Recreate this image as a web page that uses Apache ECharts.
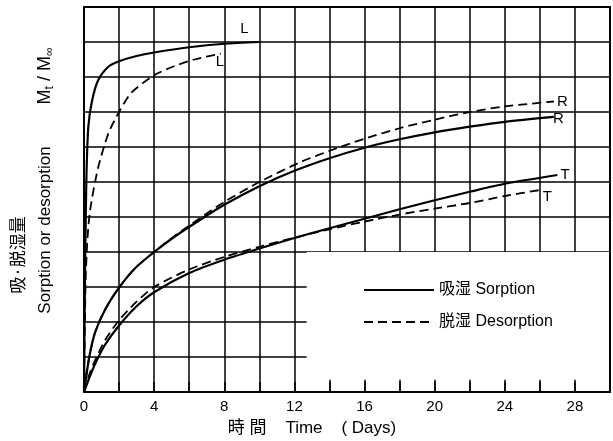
<!DOCTYPE html>
<html>
<head>
<meta charset="utf-8">
<script src="https://cdn.jsdelivr.net/npm/echarts@6/dist/echarts.min.js"></script>
<style>
  html, body { margin: 0; padding: 0; background: #fff; }
  #chart { width: 613px; height: 441px; }
</style>
</head>
<body>
<div id="chart"></div>
<script>
  // time in days, value = Mt/M∞
  const solidL = [[0, 0], [0.05, 0.3], [0.1, 0.5], [0.15, 0.64], [0.25, 0.76], [0.45, 0.83], [0.8, 0.89], [1.4, 0.93], [2, 0.945], [3, 0.96], [4, 0.97], [6, 0.985], [8, 0.995], [10, 1.0]];
  const dashL = [[0, 0], [0.05, 0.2], [0.1, 0.33], [0.2, 0.44], [0.35, 0.52], [0.8, 0.64], [1.4, 0.74], [2, 0.8], [2.7, 0.855], [4, 0.905], [5.2, 0.932], [6.3, 0.95], [7.8, 0.967]];
  const solidR = [[0, 0], [0.3, 0.1], [0.63, 0.17], [1.2, 0.235], [2, 0.298], [2.9, 0.353], [4, 0.4], [5.2, 0.445], [6.5, 0.488], [8, 0.535], [10, 0.588], [12, 0.632], [14, 0.668], [16, 0.698], [18, 0.722], [20, 0.742], [22, 0.758], [24, 0.772], [26.8, 0.786]];
  const dashR = [[0, 0], [0.3, 0.1], [0.63, 0.17], [1.2, 0.235], [2, 0.298], [2.9, 0.353], [4, 0.4], [5.2, 0.447], [6.5, 0.493], [8, 0.543], [10, 0.6], [12.4, 0.658], [14.6, 0.7], [16.2, 0.727], [18.1, 0.755], [20, 0.778], [22, 0.8], [24, 0.816], [26.8, 0.83]];
  const solidT = [[0, 0], [0.3, 0.04], [0.63, 0.08], [1.2, 0.135], [2, 0.19], [3, 0.245], [4, 0.285], [6, 0.34], [8, 0.378], [10, 0.41], [12, 0.44], [14, 0.468], [16, 0.495], [18, 0.522], [20, 0.548], [22, 0.572], [24, 0.595], [27, 0.62]];
  const dashT = [[0, 0], [0.3, 0.05], [0.63, 0.09], [1.2, 0.148], [2, 0.205], [3, 0.258], [4, 0.3], [6, 0.35], [8, 0.386], [10, 0.415], [12, 0.441], [14, 0.465], [16, 0.487], [18, 0.507], [20, 0.524], [22, 0.54], [24, 0.56], [26, 0.577]];
  const xTicks = [0, 4, 8, 12, 16, 20, 24, 28];
  const legendBox = [[12.7, 0.035], [30, 0.4]];

  const SORP = '吸湿 Sorption';
  const DESORP = '脱湿 Desorption';
  const FONT = 'Liberation Sans, DejaVu Sans, Noto Sans CJK JP';

  function curve(name, data, dashed, letter, offset) {
    return {
      name: name,
      type: 'line',
      data: data,
      smooth: 0.25,
      showSymbol: false,
      symbol: 'none',
      z: 4,
      lineStyle: {
        color: '#000',
        width: dashed ? 1.8 : 2.2,
        type: dashed ? [9, 5] : 'solid'
      },
      endLabel: {
        show: true,
        formatter: letter,
        color: '#000',
        fontSize: 15,
        fontFamily: FONT,
        distance: 3,
        offset: offset
      }
    };
  }

  const myChart = echarts.init(document.getElementById('chart'));
  const option = {
    animation: false,
    grid: { left: 84, right: 2, top: 7, bottom: 49 },
    xAxis: [
      {
        type: 'value', min: 0, max: 30, interval: 2,
        axisLine: { show: true, lineStyle: { color: '#000', width: 2 } },
        axisTick: { show: true, inside: true, length: 10, lineStyle: { color: '#000', width: 1.5 } },
        splitLine: { show: true, lineStyle: { color: '#000', width: 1.5 } },
        axisLabel: {
          color: '#000', fontSize: 15, fontFamily: FONT, margin: 7,
          formatter: v => xTicks.indexOf(v) >= 0 ? String(v) : ''
        }
      },
      {
        type: 'value', position: 'top', min: 0, max: 30, z: 10,
        axisLine: { show: true, onZero: false, lineStyle: { color: '#000', width: 2 } },
        axisTick: { show: false }, axisLabel: { show: false }, splitLine: { show: false }
      }
    ],
    yAxis: [
      {
        type: 'value', min: 0, max: 1.1, interval: 0.1,
        axisLine: { show: true, lineStyle: { color: '#000', width: 2 } },
        axisTick: { show: false }, axisLabel: { show: false },
        splitLine: { show: true, lineStyle: { color: '#000', width: 1.5 } }
      },
      {
        type: 'value', position: 'right', min: 0, max: 1.1, z: 10,
        axisLine: { show: true, onZero: false, lineStyle: { color: '#000', width: 2 } },
        axisTick: { show: false }, axisLabel: { show: false }, splitLine: { show: false }
      }
    ],
    legend: {
      left: 358, top: 277, orient: 'vertical',
      itemWidth: 70, itemHeight: 10, itemGap: 16,
      data: [SORP, DESORP],
      itemStyle: { opacity: 0 },
      textStyle: { color: '#000', fontSize: 16, fontFamily: FONT }
    },
    series: [
      {
        name: 'box', type: 'line', data: [], z: 3,
        markArea: {
          silent: true,
          itemStyle: { color: '#fff', opacity: 1 },
          data: [[{ xAxis: legendBox[0][0], yAxis: legendBox[0][1] }, { xAxis: legendBox[1][0], yAxis: legendBox[1][1] }]]
        }
      },
      curve(SORP, solidL, false, 'L', [-22, -13]),
      curve(DESORP, dashL, true, 'L', [-8, 8]),
      curve(SORP, solidR, false, 'R', [-4, 2]),
      curve(DESORP, dashR, true, 'R', [0, 0]),
      curve(SORP, solidT, false, 'T', [0, 0]),
      curve(DESORP, dashT, true, 'T', [0, 7])
    ],
    graphic: [
      {
        type: 'text', x: 18, y: 255, rotation: Math.PI / 2,
        style: { text: '吸·脱湿量', fontSize: 17, fontFamily: 'Noto Sans CJK JP', fill: '#000', align: 'center', verticalAlign: 'middle' }
      },
      {
        type: 'text', x: 45, y: 230, rotation: Math.PI / 2,
        style: { text: 'Sorption or desorption', fontSize: 17, fontFamily: FONT, fill: '#000', align: 'center', verticalAlign: 'middle' }
      },
      {
        type: 'text', x: 45, y: 76, rotation: Math.PI / 2,
        style: {
          text: '{m|M}{s|t}{m| / M}{s|∞}',
          align: 'center', verticalAlign: 'middle',
          rich: {
            m: { fontSize: 18, fontFamily: FONT, fill: '#000' },
            s: { fontSize: 12, fontFamily: FONT, fill: '#000', padding: [9, 0, 0, 0] }
          }
        }
      },
      {
        type: 'text', x: 312, y: 428,
        style: { text: '時 間    Time    ( Days)', fontSize: 17, fontFamily: FONT, fill: '#000', align: 'center', verticalAlign: 'middle' }
      }
    ]
  };
  option && myChart.setOption(option);
</script>
</body>
</html>
